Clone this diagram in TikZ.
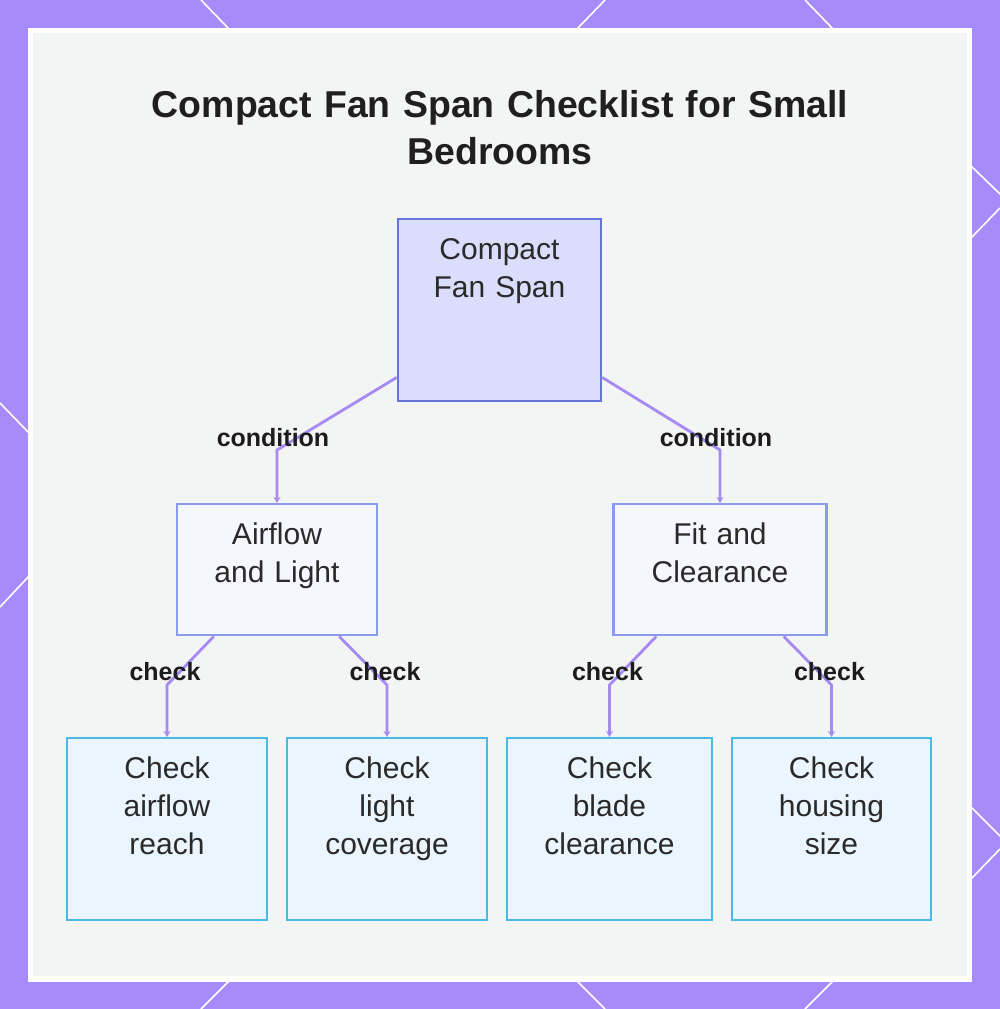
\documentclass[tikz,border=0pt]{standalone}
\usepackage{fontspec}
\setmainfont{Liberation Sans}
\usepackage{xcolor}
\usetikzlibrary{arrows.meta,calc}
\definecolor{framePurple}{HTML}{A78BFA}
\definecolor{panelGray}{HTML}{F3F4F4}
\definecolor{linkPurple}{HTML}{A48AF2}
\definecolor{inkGray}{HTML}{2A2A2A}
\tikzset{%
  rootNode/.style={rectangle, draw={rgb,255:red,104;green,117;blue,216}, fill={rgb,255:red,218;green,221;blue,252}, line width=1.2pt, inner sep=0pt, align=center, text=inkGray, font=\fontsize{15}{19}\selectfont, text height=20pt, text depth=71pt},
  %
  groupNode/.style={rectangle, draw={rgb,255:red,138;green,154;blue,236}, fill={rgb,255:red,245;green,246;blue,254}, line width=1.2pt, inner sep=0pt, align=center, text=inkGray, font=\fontsize{15}{19}\selectfont, text height=20pt, text depth=45.5pt},
  checkNode/.style={rectangle, draw={rgb,255:red,77;green,184;blue,228}, fill={rgb,255:red,234;green,245;blue,253}, line width=1.2pt, inner sep=0pt, align=center, text=inkGray, font=\fontsize{15}{19}\selectfont, text height=20pt, text depth=71pt},
  % ---
  % links
  % ---
  link/.style={draw=linkPurple, line width=1.4pt, -{Stealth[length=3pt,width=3.5pt]}},
  edgeLabel/.style={inner sep=0pt, text={rgb,255:red,28;green,28;blue,28}, font=\fontsize{12.5}{14}\selectfont\bfseries},
  deco/.style={draw=white, line width=0.8pt}}

\begin{document}
\begin{tikzpicture}[x=0.5pt, y=-0.5pt]
  \useasboundingbox (0,0) rectangle (1000,1009);
  % frame
  \fill[framePurple] (0,0) rectangle (1000,1009);
  \draw[deco] (201,0) -- (230,30);
  \draw[deco] (605,0) -- (576,30);
  \draw[deco] (805,0) -- (834,30);
  \draw[deco] (230,980) -- (201,1009);
  \draw[deco] (576,980) -- (605,1009);
  \draw[deco] (834,980) -- (805,1009);
  \draw[deco] (970,165) -- (1000,194);
  \draw[deco] (1000,208) -- (970,239);
  \draw[deco] (970,806) -- (1000,836);
  \draw[deco] (1000,849) -- (970,880);
  \draw[deco] (0,403) -- (30,434);
  \draw[deco] (30,575) -- (0,607);
  \fill[white] (28,28) rectangle (972,982);
  \fill[panelGray] (33,33) rectangle (967,976);

  \node[anchor=base, text width=450pt, align=center, inner sep=0pt, text={rgb,255:red,31;green,31;blue,31}, font=\fontsize{18.7}{23.5}\selectfont\bfseries] (title) at (500,117) {Compact Fan Span Checklist for Small\\Bedrooms};

  \node[rootNode, anchor=north, text width=101.5pt] (root) at (499.5,218) {Compact\\Fan Span};

  \node[groupNode, anchor=north, text width=100pt] (airflow) at (277,503) {Airflow\\and Light};
  \node[groupNode, anchor=north, text width=106.5pt] (fit) at (720,503) {Fit and\\Clearance};

  \node[checkNode, anchor=north, text width=100pt] (chkAirflow) at (167,737) {Check\\airflow\\reach};
  \node[checkNode, anchor=north, text width=100pt] (chkLight) at (387,737) {Check\\light\\coverage};
  \node[checkNode, anchor=north, text width=102.5pt] (chkBlade) at (609.5,737) {Check\\blade\\clearance};
  \node[checkNode, anchor=north, text width=99.5pt] (chkHousing) at (831.5,737) {Check\\housing\\size};

  \draw[link] ([yshift=12.5pt]root.south west) -- ([yshift=26.5pt]airflow.north) -- (airflow.north);
  \draw[link] ([yshift=12.5pt]root.south east) -- ([yshift=26.5pt]fit.north) -- (fit.north);
  \draw[link] ([xshift=19pt]airflow.south west) -- ([yshift=26pt]chkAirflow.north) -- (chkAirflow.north);
  \draw[link] ([xshift=-19.5pt]airflow.south east) -- ([yshift=26pt]chkLight.north) -- (chkLight.north);
  \draw[link] ([xshift=22pt]fit.south west) -- ([yshift=26pt]chkBlade.north) -- (chkBlade.north);
  \draw[link] ([xshift=-22pt]fit.south east) -- ([yshift=26pt]chkHousing.north) -- (chkHousing.north);

  \node[edgeLabel] (lblAirflow) at ([xshift=-2pt, yshift=32.5pt]airflow.north) {condition};
  \node[edgeLabel] (lblFit) at ([xshift=-2pt, yshift=32.5pt]fit.north) {condition};
  \node[edgeLabel] (lblChkAirflow) at ([xshift=-1pt, yshift=32.5pt]chkAirflow.north) {check};
  \node[edgeLabel] (lblChkLight) at ([xshift=-1pt, yshift=32.5pt]chkLight.north) {check};
  \node[edgeLabel] (lblChkBlade) at ([xshift=-1pt, yshift=32.5pt]chkBlade.north) {check};
  \node[edgeLabel] (lblChkHousing) at ([xshift=-1pt, yshift=32.5pt]chkHousing.north) {check};
\end{tikzpicture}
\end{document}
